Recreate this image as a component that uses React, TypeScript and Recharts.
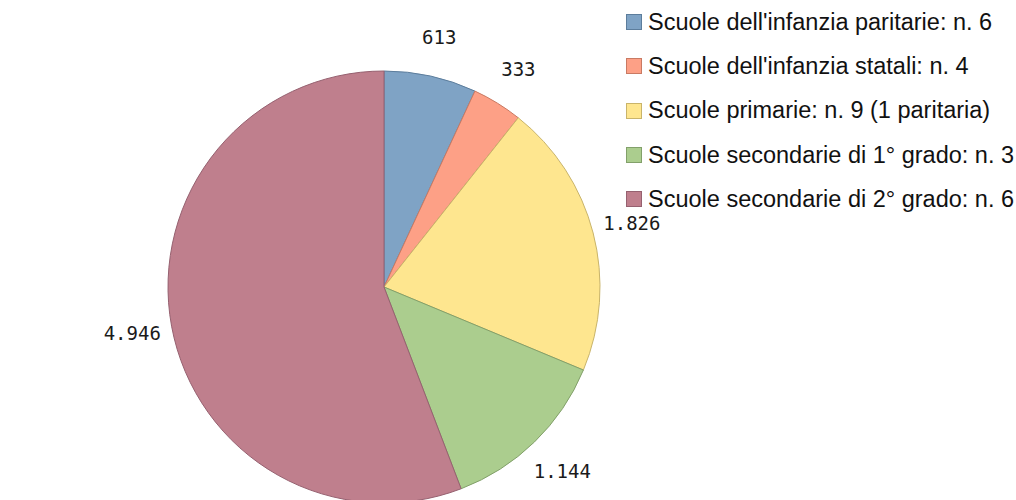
import React from "react";
import { Cell, Legend, Pie, PieChart } from "recharts";

const categories = [
  "Scuole dell'infanzia paritarie: n. 6",
  "Scuole dell'infanzia statali: n. 4",
  "Scuole primarie: n. 9 (1 paritaria)",
  "Scuole secondarie di 1° grado: n. 3",
  "Scuole secondarie di 2° grado: n. 6",
];
const students = [613, 333, 1826, 1144, 4946];

const fills = ["#7fa3c5", "#fda086", "#fee68f", "#abcd8e", "#bf7f8d"];
const strokes = ["#5c7d9c", "#c97a63", "#c9b46a", "#82a06a", "#966170"];

const data = categories.map((name, i) => ({ name, value: students[i] }));

// it-IT locale skips grouping for 4 digits, so do it by hand
const fmt = (v: number) => String(v).replace(/\B(?=(\d{3})+(?!\d))/g, ".");

const RAD = Math.PI / 180;

function renderLabel(props: any) {
  const { cx, cy, midAngle, outerRadius, value } = props;
  const r = outerRadius + 40;
  const x = cx + r * Math.cos(-midAngle * RAD);
  const y = cy + r * Math.sin(-midAngle * RAD);
  return (
    <text
      x={x}
      y={y}
      fill="#1a1a1a"
      fontFamily="DejaVu Sans Mono"
      fontSize={19}
      textAnchor="middle"
      dominantBaseline="central"
    >
      {fmt(value)}
    </text>
  );
}

function LegendBox({ payload }: any) {
  return (
    <div>
      {(payload || []).map((p: any, i: number) => (
        <div
          key={p.value}
          style={{ display: "flex", alignItems: "center", height: 44.3 }}
        >
          <span
            style={{
              width: 16,
              height: 16,
              background: fills[i],
              border: `1px solid ${strokes[i]}`,
              marginRight: 6,
              boxSizing: "border-box",
              flex: "none",
            }}
          />
          <span
            style={{
              fontFamily: "Liberation Sans",
              fontSize: 23.5,
              color: "#111",
              whiteSpace: "nowrap",
            }}
          >
            {p.value}
          </span>
        </div>
      ))}
    </div>
  );
}

export default function App() {
  return (
    <div style={{ position: "absolute", left: 0, top: 0, background: "#fff" }}>
      <PieChart width={1016} height={500} margin={{ top: 0, right: 0, bottom: 0, left: 0 }}>
        <Pie
          data={data}
          dataKey="value"
          nameKey="name"
          cx={384}
          cy={287}
          outerRadius={216}
          startAngle={90}
          endAngle={-270}
          label={renderLabel}
          labelLine={false}
          isAnimationActive={false}
        >
          {data.map((d, i) => (
            <Cell key={d.name} fill={fills[i]} stroke={strokes[i]} strokeWidth={1} />
          ))}
        </Pie>
        <Legend
          layout="vertical"
          content={<LegendBox />}
          wrapperStyle={{ left: 626, top: 0, width: 390 }}
        />
      </PieChart>
    </div>
  );
}
